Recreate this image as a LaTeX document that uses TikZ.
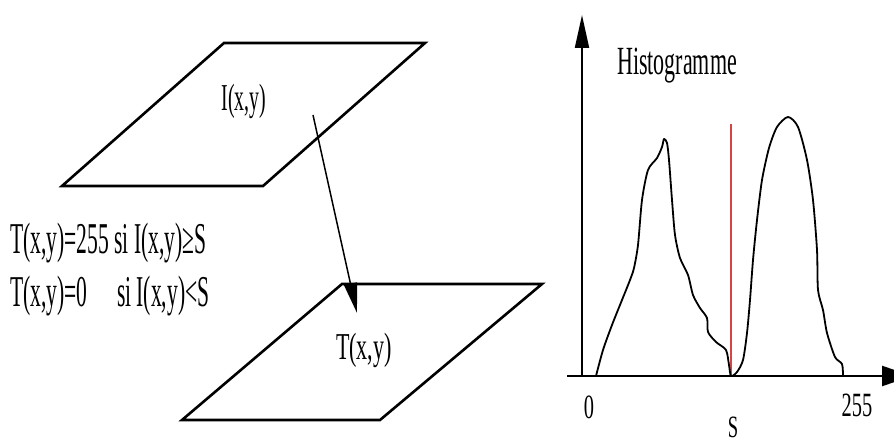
\documentclass[tikz,border=0pt]{standalone}
\usepackage{fontspec}
\setmainfont{Liberation Serif}
\usetikzlibrary{arrows.meta}
\newcommand\mytxt[3]{\scalebox{#1}[1]{\fontsize{#2}{#2}\selectfont #3}}
\begin{document}
\begin{tikzpicture}[x=1pt,y=-1pt,
  plane/.style={line width=2.6pt, line join=miter},
  lbl/.style={inner sep=0pt, outer sep=0pt},
  axis/.style={line width=2.4pt},
  curve/.style={line width=1.8pt, line join=round, line cap=round}]
\useasboundingbox (0,0) rectangle (894,446);
\clip (0,0) rectangle (894,446);
\fill[white] (0,0) rectangle (894,446);
% top plane I(x,y)
\coordinate (p1) at (224,43);
\coordinate (p2) at (425,43);
\coordinate (p3) at (263,186);
\coordinate (p4) at (62,186);
\draw[plane] (p1) -- (p2) -- (p3) -- (p4) -- cycle;
\node[lbl] (Ilab) at (244,101) {\mytxt{0.52}{38}{I(x,y)}};
% bottom plane T(x,y)
\coordinate (q1) at (342,284);
\coordinate (q2) at (542,284);
\coordinate (q3) at (380,420);
\coordinate (q4) at (182,420);
\draw[plane] (q1) -- (q2) -- (q3) -- (q4) -- cycle;
\node[lbl] (Tlab) at (364,350) {\mytxt{0.58}{38}{T(x,y)}};
% arrow
\coordinate (astart) at (313,115);
\coordinate (aend) at (357,313);
\draw[line width=1.5pt, -{Triangle[length=30pt,width=13pt]}] (astart) -- (aend);
% formula
\node[lbl, anchor=west] (f1) at (10,243) {\mytxt{0.49}{44}{T(x,y)=255 si I(x,y)≥S}};
\node[lbl, anchor=west] (f2a) at (10,296) {\mytxt{0.49}{44}{T(x,y)=0}};
\node[lbl, anchor=west] (f2b) at (117,296) {\mytxt{0.49}{44}{si I(x,y)<S}};
% histogram axes
\coordinate (yb) at (582,376);
\coordinate (yt) at (582,15);
\coordinate (xl) at (567,376);
\coordinate (xr) at (912,376);
\draw[line width=2pt, -{Triangle[length=33pt,width=14pt]}] (yb) -- (yt);
\draw[axis, -{Triangle[length=30pt,width=20pt]}] (xl) -- (xr);
% threshold line
\coordinate (rt) at (731,124);
\coordinate (rb) at (731,376);
\draw[line width=1.3pt, color={rgb,255:red,210;green,70;blue,70}] (rt) -- (rb);
% histogram curve
\draw[curve] plot[smooth, tension=0.45] coordinates {
 (596,376) (603,350) (612,325) (622,300) (630,280) (634,268) (638,245)
 (642,200) (648,170) (657,158) (662,147) (664,139) (667,143) (669,160)
 (672,200) (675,235) (680,258) (688,275) (693,295) (700,308) (707,318)
 (708,332) (716,342) (726,350) (729,365) (731,376) (737,372) (743,360)
 (747,333) (750,300) (753,260) (757,220) (762,180) (769,148) (777,127)
 (788,117) (798,127) (807,160) (813,200) (817,250) (818,290) (823,310)
 (827,333) (835,357) (842,364) (843,376)};
% labels
\node[lbl] (hist) at (677,66) {\mytxt{0.55}{40}{Histogramme}};
\node[lbl, anchor=base] (zero) at (589,418) {\mytxt{0.6}{34}{0}};
\node[lbl, anchor=base] (max) at (857,416) {\mytxt{0.6}{34}{255}};
\node[lbl, anchor=base] (slab) at (733,437) {\mytxt{0.6}{31}{S}};
\end{tikzpicture}
\end{document}
